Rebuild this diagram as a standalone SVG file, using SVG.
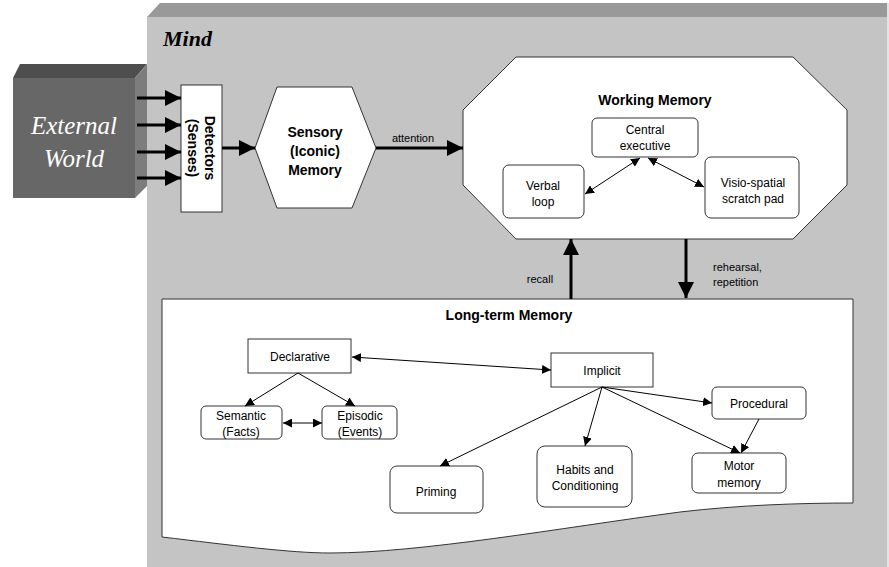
<svg xmlns="http://www.w3.org/2000/svg" width="889" height="567" viewBox="0 0 889 567">
<defs>
<style>
.box{fill:#fff;stroke:#333;stroke-width:1}
.t{font-family:"Liberation Sans",Arial,sans-serif;font-size:12px;fill:#000;text-anchor:middle}
.b{font-family:"Liberation Sans",Arial,sans-serif;font-size:14px;font-weight:bold;fill:#000;text-anchor:middle}
.thick{stroke:#000;stroke-width:3;fill:none}
.thin{stroke:#000;stroke-width:1;fill:none}
.w{font-family:"Liberation Serif",serif;font-style:italic;font-size:25px;fill:#fff;text-anchor:middle}
</style>
<marker id="big" viewBox="0 0 10 10" refX="10" refY="5" markerWidth="16" markerHeight="16" markerUnits="userSpaceOnUse" orient="auto"><path d="M0,0 L10,5 L0,10 Z" fill="#000"/></marker>
<marker id="sm" viewBox="0 0 10 10" refX="10" refY="5" markerWidth="9" markerHeight="9" markerUnits="userSpaceOnUse" orient="auto-start-reverse"><path d="M0,0 L10,5 L0,10 Z" fill="#000"/></marker>
</defs>
<rect width="889" height="567" fill="#fff"/>
<g id="mind">
<polygon points="147,17 160,3 887,3 887,17" fill="#999"/>
<rect x="887" y="3" width="2" height="564" fill="#e4e4e4"/>
<rect x="147" y="17" width="740" height="550" fill="#c4c4c4"/>
<text x="163" y="46" font-family="'Liberation Serif',serif" font-style="italic" font-weight="bold" font-size="22" fill="#000">Mind</text>
</g>
<g id="external-world">
<polygon points="13,78 20,64 147,64 135,78" fill="#4e4e4e"/>
<polygon points="135,78 147,64 147,186 135,198" fill="#7d7d7d"/>
<rect x="13" y="78" width="122" height="120" fill="#676767"/>
<text class="w" x="74" y="134">External</text>
<text class="w" x="74" y="167">World</text>
</g>
<g id="detectors">
<rect class="box" x="181" y="85" width="41" height="127"/>
<g transform="translate(201,148) rotate(90)">
<text class="b" x="0" y="-4">Detectors</text>
<text class="b" x="0" y="13">(Senses)</text>
</g>
</g>
<g id="sensory">
<polygon class="box" points="255,148 277,87 352,87 376,148 352,208 277,208"/>
<text class="b" x="315" y="137">Sensory</text>
<text class="b" x="315" y="156">(Iconic)</text>
<text class="b" x="315" y="175">Memory</text>
</g>
<g id="working-memory">
<polygon class="box" points="516,57 793,57 847,110 847,185 793,239 516,239 463,185 463,110"/>
<text class="b" x="655" y="105">Working Memory</text>
</g>
<g id="central-executive">
<rect class="box" x="592" y="118" width="106" height="39" rx="5"/>
<text class="t" x="645" y="134">Central</text>
<text class="t" x="645" y="150">executive</text>
</g>
<g id="verbal-loop">
<rect class="box" x="503" y="165" width="81" height="53" rx="6"/>
<text class="t" x="543" y="190">Verbal</text>
<text class="t" x="543" y="206">loop</text>
</g>
<g id="visio-spatial">
<rect class="box" x="705" y="157" width="94" height="61" rx="6"/>
<text class="t" x="753" y="187">Visio-spatial</text>
<text class="t" x="753" y="203">scratch pad</text>
</g>
<g id="long-term-memory">
<path class="box" d="M162,299 L853,299 L853,503 C800,503 740,505 680,512 C560,528 420,553 330,553 C290,553 230,545 162,537 Z"/>
<text class="b" x="509" y="320">Long-term Memory</text>
</g>
<g id="declarative">
<rect class="box" x="248" y="339" width="103" height="34"/>
<text class="t" x="300" y="361">Declarative</text>
</g>
<g id="implicit">
<rect class="box" x="551" y="353" width="102" height="34"/>
<text class="t" x="602" y="375">Implicit</text>
</g>
<g id="semantic">
<rect class="box" x="201" y="406" width="81" height="33" rx="5"/>
<text class="t" x="241" y="420">Semantic</text>
<text class="t" x="241" y="436">(Facts)</text>
</g>
<g id="episodic">
<rect class="box" x="322" y="406" width="75" height="33" rx="5"/>
<text class="t" x="360" y="420">Episodic</text>
<text class="t" x="360" y="436">(Events)</text>
</g>
<g id="procedural">
<rect class="box" x="712" y="387" width="94" height="32" rx="5"/>
<text class="t" x="759" y="408">Procedural</text>
</g>
<g id="priming">
<rect class="box" x="390" y="466" width="93" height="47" rx="7"/>
<text class="t" x="436" y="496">Priming</text>
</g>
<g id="habits">
<rect class="box" x="537" y="446" width="95" height="61" rx="8"/>
<text class="t" x="585" y="474">Habits and</text>
<text class="t" x="585" y="490">Conditioning</text>
</g>
<g id="motor-memory">
<rect class="box" x="692" y="453" width="94" height="40" rx="6"/>
<text class="t" x="739" y="470">Motor</text>
<text class="t" x="739" y="487">memory</text>
</g>
<g id="connectors">
<line class="thick" x1="137" y1="98" x2="181" y2="98" marker-end="url(#big)"/>
<line class="thick" x1="137" y1="125" x2="181" y2="125" marker-end="url(#big)"/>
<line class="thick" x1="137" y1="152" x2="181" y2="152" marker-end="url(#big)"/>
<line class="thick" x1="137" y1="178" x2="181" y2="178" marker-end="url(#big)"/>
<line class="thick" x1="222" y1="148" x2="255" y2="148" marker-end="url(#big)"/>
<line class="thick" x1="376" y1="148" x2="463" y2="148" marker-end="url(#big)"/>
<text x="413" y="142" text-anchor="middle" font-family="'Liberation Sans',Arial,sans-serif" font-size="11" fill="#000">attention</text>
<line class="thick" x1="571" y1="299" x2="571" y2="239" marker-end="url(#big)"/>
<text x="540" y="283" text-anchor="middle" font-family="'Liberation Sans',Arial,sans-serif" font-size="11" fill="#000">recall</text>
<line class="thick" x1="686" y1="239" x2="686" y2="298" marker-end="url(#big)"/>
<text x="713" y="271" font-family="'Liberation Sans',Arial,sans-serif" font-size="11" fill="#000">rehearsal,</text>
<text x="713" y="286" font-family="'Liberation Sans',Arial,sans-serif" font-size="11" fill="#000">repetition</text>
<line class="thin" x1="640" y1="158" x2="585" y2="194" marker-start="url(#sm)" marker-end="url(#sm)"/>
<line class="thin" x1="648" y1="158" x2="704" y2="187" marker-start="url(#sm)" marker-end="url(#sm)"/>
<line class="thin" x1="352" y1="357" x2="551" y2="370" marker-start="url(#sm)" marker-end="url(#sm)"/>
<line class="thin" x1="298" y1="373" x2="245" y2="406" marker-end="url(#sm)"/>
<line class="thin" x1="298" y1="373" x2="355" y2="406" marker-end="url(#sm)"/>
<line class="thin" x1="283" y1="423" x2="322" y2="423" marker-start="url(#sm)" marker-end="url(#sm)"/>
<line class="thin" x1="602" y1="387" x2="440" y2="466" marker-end="url(#sm)"/>
<line class="thin" x1="602" y1="387" x2="585" y2="446" marker-end="url(#sm)"/>
<line class="thin" x1="602" y1="387" x2="712" y2="403" marker-end="url(#sm)"/>
<line class="thin" x1="602" y1="387" x2="740" y2="453" marker-end="url(#sm)"/>
<line class="thin" x1="759" y1="419" x2="741" y2="453" marker-end="url(#sm)"/>
</g>
</svg>
